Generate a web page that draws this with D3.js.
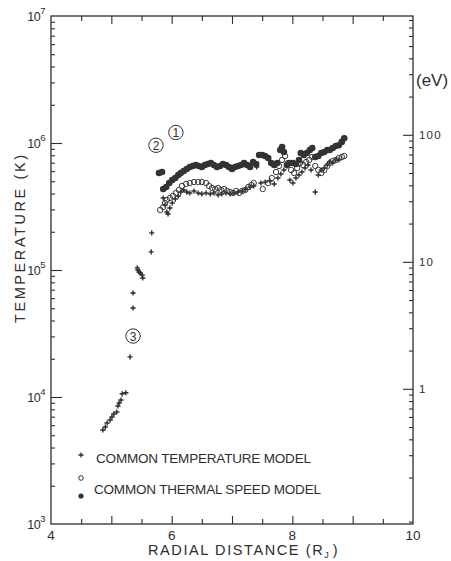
<!DOCTYPE html>
<html>
<head>
<meta charset="utf-8">
<script src="https://cdn.jsdelivr.net/npm/d3@7"></script>
<style>
  html, body { margin: 0; padding: 0; background: #ffffff; }
  svg { display: block; }
  text { font-family: "Liberation Sans", "DejaVu Sans", sans-serif; fill: #2e2e2e; }
</style>
</head>
<body>
<svg id="chart" width="451" height="561"></svg>
<script>
// Radial distance (planet radii) and temperature (K) for each model.
// Common temperature model (+)
const rTemp = [4.86, 4.90, 4.93, 4.98, 5.01, 5.04, 5.09, 5.11, 5.13, 5.16, 5.18, 5.24,
  5.31, 5.36, 5.36, 5.43, 5.44, 5.46, 5.48, 5.51, 5.52, 5.66, 5.67,
  5.86, 5.89, 5.92, 5.94, 5.97, 6.01, 6.06, 6.11, 6.15, 6.20, 6.25, 6.30, 6.37, 6.44,
  6.50, 6.57, 6.64, 6.70, 6.77, 6.83, 6.90, 6.97, 7.03, 7.10, 7.17, 7.23, 7.30, 7.36,
  7.41, 7.48, 7.55, 7.63, 7.70, 7.76, 7.81, 7.86, 7.91, 7.96, 8.01, 8.06, 8.11, 8.16,
  8.21, 8.26, 8.31, 8.38, 8.43, 8.48, 8.53, 8.58, 8.62, 8.67, 8.72, 8.77];
const tTemp = [5.5e3, 5.8e3, 6.24e3, 6.59e3, 6.96e3, 7.35e3, 7.62e3, 8.5e3, 8.97e3, 9.47e3, 1.06e4, 1.08e4,
  2.07e4, 5.02e4, 6.59e4, 1.04e5, 1.0e5, 9.65e4, 9.47e4, 9.13e4, 8.65e4, 1.39e5, 1.96e5,
  3.69e5, 3.25e5, 2.86e5, 2.76e5, 3.08e5, 3.37e5, 3.62e5, 3.83e5, 4.11e5, 4.27e5, 4.11e5, 4.04e5, 4.19e5, 4.04e5,
  3.97e5, 4.04e5, 3.97e5, 4.04e5, 3.90e5, 3.97e5, 4.04e5, 3.97e5, 4.04e5, 4.11e5, 4.19e5, 4.34e5, 4.50e5, 4.59e5,
  6.47e5, 4.84e5, 4.93e5, 5.02e5, 4.76e5, 5.30e5, 5.70e5, 6.13e5, 6.59e5, 5.11e5, 4.84e5, 5.30e5, 5.60e5, 5.91e5,
  6.36e5, 6.71e5, 6.13e5, 4.11e5, 5.60e5, 6.13e5, 6.36e5, 6.71e5, 7.09e5, 6.96e5, 7.35e5, 7.35e5];

// Common thermal speed model, curve (1): filled dots
const rSpeedA = [5.79, 5.84, 5.86, 5.91, 5.96, 6.01, 6.06, 6.11, 6.15, 6.20, 6.25, 6.30, 6.35, 6.40,
  6.45, 6.50, 6.55, 6.60, 6.65, 6.70, 6.75, 6.80, 6.85, 6.90, 6.95, 7.00, 7.05, 7.10, 7.15, 7.20,
  7.25, 7.30, 7.35, 7.40, 7.45, 7.50, 7.55, 7.60, 7.65, 7.70, 7.75, 7.80, 7.83, 7.86, 7.91, 7.96,
  8.01, 8.06, 8.11, 8.14, 8.19, 8.24, 8.29, 8.33, 8.38, 8.43, 8.48, 8.53, 8.58, 8.62, 8.67, 8.72,
  8.77, 8.82, 8.86];
const tSpeedA = [5.80e5, 5.91e5, 4.34e5, 4.50e5, 4.84e5, 5.11e5, 5.30e5, 5.60e5, 5.80e5, 6.02e5, 6.24e5, 6.47e5, 6.59e5, 6.71e5,
  6.59e5, 6.47e5, 6.71e5, 6.83e5, 6.96e5, 6.71e5, 6.47e5, 6.59e5, 6.83e5, 6.71e5, 6.47e5, 6.24e5, 6.47e5, 6.59e5, 6.71e5, 6.96e5,
  6.71e5, 6.47e5, 7.09e5, 6.83e5, 8.05e5, 8.05e5, 7.90e5, 7.62e5, 6.96e5, 6.71e5, 6.96e5, 8.81e5, 9.30e5, 8.50e5, 6.71e5, 6.96e5,
  6.96e5, 6.83e5, 7.35e5, 8.34e5, 8.05e5, 8.34e5, 8.81e5, 9.13e5, 7.76e5, 7.90e5, 8.34e5, 8.50e5, 8.81e5, 8.81e5, 9.13e5, 9.47e5,
  9.60e5, 1.02e6, 1.09e6];

// Common thermal speed model, curve (2): open circles
const rSpeedB = [5.81, 5.86, 5.89, 5.92, 5.97, 6.02, 6.07, 6.12, 6.17, 6.24, 6.30, 6.37, 6.44, 6.50,
  6.57, 6.62, 6.67, 6.72, 6.77, 6.82, 6.87, 6.92, 6.97, 7.02, 7.07, 7.12, 7.17, 7.22, 7.27, 7.32,
  7.36, 7.51, 7.60, 7.66, 7.73, 7.78, 7.83, 7.88, 7.93, 7.98, 8.03, 8.08, 8.13, 8.18, 8.23, 8.28,
  8.33, 8.38, 8.43, 8.48, 8.53, 8.58, 8.62, 8.67, 8.72, 8.77, 8.82, 8.86];
const tSpeedB = [2.97e5, 3.13e5, 3.37e5, 3.56e5, 3.69e5, 3.83e5, 4.04e5, 4.27e5, 4.59e5, 4.76e5, 4.84e5, 4.93e5, 4.93e5, 4.93e5,
  4.84e5, 4.59e5, 4.42e5, 4.34e5, 4.42e5, 4.27e5, 4.34e5, 4.19e5, 4.11e5, 4.04e5, 4.19e5, 4.04e5, 4.19e5, 4.27e5, 4.50e5, 4.67e5,
  4.84e5, 4.34e5, 4.84e5, 5.30e5, 5.91e5, 6.59e5, 7.35e5, 7.90e5, 6.96e5, 6.13e5, 5.80e5, 6.36e5, 6.96e5, 6.71e5, 7.09e5, 7.35e5,
  7.76e5, 6.59e5, 6.13e5, 5.80e5, 6.13e5, 6.59e5, 6.96e5, 7.22e5, 7.35e5, 7.62e5, 7.76e5, 7.90e5];

// Axis ticks
const xTickLabels = [4, 6, 8, 10];
const yDecades = [1e3, 1e4, 1e5, 1e6, 1e7];
const eVMajor = [1, 10, 100];
const kelvinPerEV = 11604;

const ink = "#2e2e2e";
const svg = d3.select("#chart");
const margin = { left: 51, top: 16, right: 38, bottom: 37 };
const W = 451 - margin.left - margin.right;
const H = 561 - margin.top - margin.bottom;
const g = svg.append("g").attr("transform", `translate(${margin.left},${margin.top})`);

const x = d3.scaleLinear().domain([4, 10]).range([0, W]);
const y = d3.scaleLog().domain([1e3, 1e7]).range([H, 0]);
const yEV = d3.scaleLog().domain([1e3 / kelvinPerEV, 1e7 / kelvinPerEV]).range([H, 0]);

// minor tick values for log axes
function logMinor(lo, hi, dom) {
  const out = [];
  for (let d = lo; d < hi; d *= 10)
    for (let k = 2; k <= 9; k++) {
      const v = d * k;
      if (v > dom[0] && v < dom[1]) out.push(v);
    }
  return out;
}

function styleAxis(sel) {
  sel.select(".domain").remove();
  sel.selectAll(".tick line").attr("stroke", ink).attr("stroke-width", 1.1);
  sel.selectAll(".tick text").remove();
}

// x ticks (bottom and top), pointing inward
const xMajor = d3.range(5, 10, 1);
const xMinor = d3.range(4.5, 10, 1);
g.append("g").attr("transform", `translate(0,${H})`)
  .call(d3.axisBottom(x).tickValues(xMajor).tickSize(-8)).call(styleAxis);
g.append("g").attr("transform", `translate(0,${H})`)
  .call(d3.axisBottom(x).tickValues(xMinor).tickSize(-5)).call(styleAxis);
g.append("g")
  .call(d3.axisTop(x).tickValues(xMajor).tickSize(-8)).call(styleAxis);
g.append("g")
  .call(d3.axisTop(x).tickValues(xMinor).tickSize(-5)).call(styleAxis);

// left log axis (K)
g.append("g").call(d3.axisLeft(y).tickValues(yDecades.slice(1, -1)).tickSize(-11)).call(styleAxis);
g.append("g").call(d3.axisLeft(y).tickValues(logMinor(1e3, 1e7, y.domain())).tickSize(-4)).call(styleAxis);

// right log axis (eV)
g.append("g").attr("transform", `translate(${W},0)`)
  .call(d3.axisRight(yEV).tickValues(eVMajor).tickSize(-10)).call(styleAxis);
g.append("g").attr("transform", `translate(${W},0)`)
  .call(d3.axisRight(yEV).tickValues(logMinor(0.01, 1000, yEV.domain())).tickSize(-4)).call(styleAxis);

// frame
g.append("rect").attr("x", 0).attr("y", 0).attr("width", W).attr("height", H)
  .attr("fill", "none").attr("stroke", ink).attr("stroke-width", 1.3);

// left tick labels: 10 with superscript exponent
yDecades.forEach(v => {
  const t = g.append("text").attr("x", -6).attr("y", y(v) + 5)
    .attr("text-anchor", "end").attr("font-size", 12.5).attr("letter-spacing", -0.5);
  t.append("tspan").text("10");
  t.append("tspan").attr("dy", -7).attr("font-size", 9.5).text(Math.round(Math.log10(v)));
});

// bottom tick labels
xTickLabels.forEach(v => {
  g.append("text").attr("x", x(v)).attr("y", H + 16).attr("text-anchor", "middle")
    .attr("font-size", 13.5).text(v);
});

// right tick labels (eV)
eVMajor.forEach(v => {
  g.append("text").attr("x", W + 6).attr("y", yEV(v) + 4.5)
    .attr("font-size", 11.5).attr("letter-spacing", 1.2).text(v);
});
g.append("text").attr("x", W + 3).attr("y", 70).attr("font-size", 17).text("(eV)");

// axis titles
svg.append("text").attr("transform", "translate(25,239) rotate(-90)")
  .attr("text-anchor", "middle").attr("font-size", 14.5)
  .attr("textLength", 168).attr("lengthAdjust", "spacing").text("TEMPERATURE (K)");
const xt = svg.append("text").attr("x", 148).attr("y", 555).attr("font-size", 14.5);
xt.append("tspan").text("RADIAL DISTANCE (R").attr("letter-spacing", 1.6);
xt.append("tspan").attr("dy", 2.5).attr("font-size", 9).text("J");
xt.append("tspan").attr("dy", -2.5).text(" )");

// markers
const plusPath = "M-2.6,0H2.6M0,-2.6V2.6";
g.append("g").selectAll("path").data(d3.range(rTemp.length)).join("path")
  .attr("transform", i => `translate(${x(rTemp[i])},${y(tTemp[i])})`)
  .attr("d", plusPath).attr("stroke", ink).attr("stroke-width", 1.4).attr("fill", "none");
g.append("g").selectAll("circle").data(d3.range(rSpeedB.length)).join("circle")
  .attr("cx", i => x(rSpeedB[i])).attr("cy", i => y(tSpeedB[i])).attr("r", 2.7)
  .attr("fill", "none").attr("stroke", "#3a3a3a").attr("stroke-width", 1);
g.append("g").selectAll("circle").data(d3.range(rSpeedA.length)).join("circle")
  .attr("cx", i => x(rSpeedA[i])).attr("cy", i => y(tSpeedA[i])).attr("r", 3.3)
  .attr("fill", "#333");

// curve labels (circled numbers)
const callouts = [
  { label: "1", r: 6.07, t: 1.21e6 },
  { label: "2", r: 5.74, t: 9.6e5 },
  { label: "3", r: 5.36, t: 3.02e4 }
];
callouts.forEach(c => {
  g.append("circle").attr("cx", x(c.r)).attr("cy", y(c.t)).attr("r", 7.2)
    .attr("fill", "none").attr("stroke", ink).attr("stroke-width", 1);
  g.append("text").attr("x", x(c.r)).attr("y", y(c.t) + 4.5).attr("text-anchor", "middle")
    .attr("font-size", 12).text(c.label);
});

// legend
const leg = svg.append("g");
leg.append("path").attr("transform", "translate(81,455)").attr("d", plusPath)
  .attr("stroke", ink).attr("stroke-width", 1.3);
leg.append("text").attr("x", 96).attr("y", 463).attr("font-size", 13.5)
  .attr("textLength", 215).attr("lengthAdjust", "spacing").text("COMMON TEMPERATURE MODEL");
leg.append("circle").attr("cx", 81).attr("cy", 478).attr("r", 2.3)
  .attr("fill", "none").attr("stroke", ink).attr("stroke-width", 1);
leg.append("circle").attr("cx", 81).attr("cy", 496).attr("r", 2.6).attr("fill", "#333");
leg.append("text").attr("x", 94).attr("y", 494).attr("font-size", 13.5)
  .attr("textLength", 227).attr("lengthAdjust", "spacing").text("COMMON THERMAL SPEED MODEL");
</script>
</body>
</html>
